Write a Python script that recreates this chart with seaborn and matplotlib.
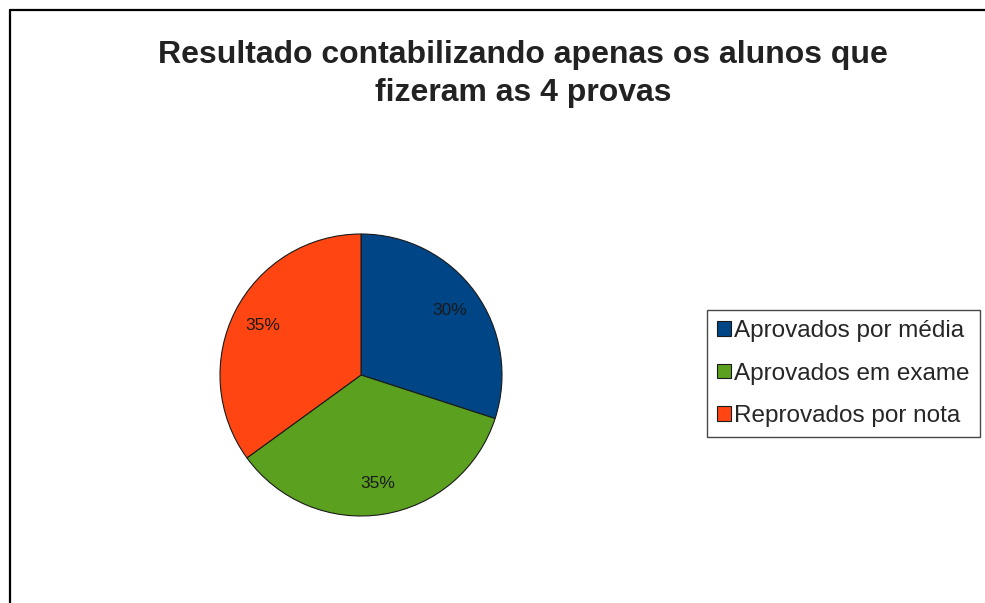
import matplotlib
matplotlib.use('Agg')
import matplotlib.pyplot as plt
import seaborn as sns
from matplotlib.lines import Line2D
from matplotlib.patches import Patch

# data
categories = ['Aprovados por média', 'Aprovados em exame', 'Reprovados por nota']
shares = [30, 35, 35]
colors = ['#004586', '#5BA01F', '#FF4612']

sns.set_style('white')
plt.rcParams['font.family'] = ['Liberation Sans', 'DejaVu Sans']

W, H = 985, 603
fig = plt.figure(figsize=(W / 100, H / 100), dpi=100)

# thin frame on the left and top, as in the screenshot
fig.add_artist(Line2D([10 / W, 10 / W], [0, 1 - 10 / H], color='black', lw=1.6))
fig.add_artist(Line2D([10 / W, 1], [1 - 10 / H, 1 - 10 / H], color='black', lw=1.6))

fig.text(523 / W, 1 - 74 / H, 'Resultado contabilizando apenas os alunos que\nfizeram as 4 provas',
         ha='center', va='center', fontsize=23, fontweight='bold', color='#222222',
         linespacing=1.32)

# pie: centre (361, 375), radius 141 px
cx, cy, r = 361, 375, 141
ax = fig.add_axes([(cx - r) / W, 1 - (cy + r) / H, 2 * r / W, 2 * r / H])
wedges, texts, autotexts = ax.pie(
    shares, colors=colors, startangle=90, counterclock=False,
    autopct='%1.0f%%', pctdistance=0.78,
    wedgeprops=dict(edgecolor='#1a1a1a', linewidth=0.8),
    textprops=dict(fontsize=12.5, color='#1a1a1a'))
ax.set_aspect('equal')
ax.set_xlim(-1.0, 1.0)
ax.set_ylim(-1.0, 1.0)
ax.axis('off')

handles = [Patch(facecolor=c, edgecolor='#1a1a1a', linewidth=0.8) for c in colors]
leg = fig.legend(handles, categories, loc='upper left',
                 bbox_to_anchor=(707 / W, 1 - 310 / H), fontsize=17.5,
                 frameon=True, fancybox=False, edgecolor='#1a1a1a',
                 handlelength=0.55, handleheight=0.55, handletextpad=0.15,
                 labelspacing=0.84, borderpad=0.42, borderaxespad=0)
leg.get_frame().set_linewidth(1.0)

fig.savefig('out.png', dpi=100)
